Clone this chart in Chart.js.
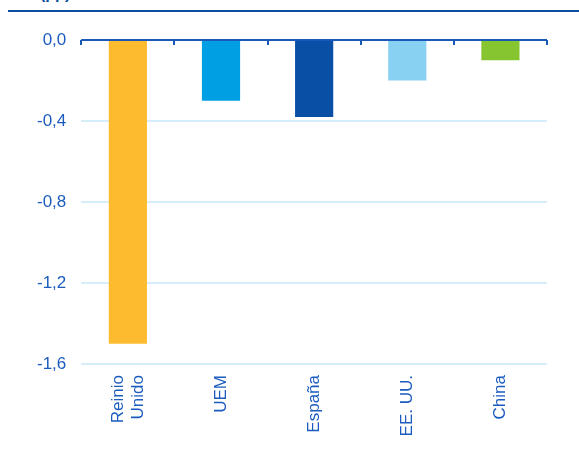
<!DOCTYPE html>
<html lang="es">
  <head>
    <meta charset="UTF-8" />
    <title>Impacto</title>
    <script src="https://cdn.jsdelivr.net/npm/chart.js"></script>
    <style>
      body { margin: 0; background: #fff; }
      .wrap { position: relative; width: 579px; height: 450px; overflow: hidden; }
      .unit { position: absolute; left: 40px; top: -15px; font: bold 16px Arial, "Liberation Sans", sans-serif; color: #0b4ea2; }
      .rule { position: absolute; left: 8px; right: 0; top: 10px; height: 2px; background: #0b4ea2; }
      canvas { position: absolute; left: 0; top: 0; }
    </style>
  </head>
  <body>
    <div class="wrap">
      <div class="unit">(pp)</div>
      <div class="rule"></div>
      <canvas id="chart" width="579" height="450"></canvas>
    </div>

    <script>
      // Datos
      const categories = [["Reinio", "Unido"], "UEM", "España", "EE. UU.", "China"];
      const values = [-1.5, -0.3, -0.38, -0.2, -0.1];
      const colors = ["#fdbb30", "#009fe3", "#0a4fa6", "#89d1f3", "#86c530"];
      const yTicks = [0, -0.4, -0.8, -1.2, -1.6];

      const textColor = "#1c5cbf";
      const fontFamily = "Arial, 'Liberation Sans', sans-serif";
      const font = { family: fontFamily, size: 17 };

      // línea del cero con marcas y etiquetas verticales centradas
      const customAxis = {
        id: "customAxis",
        afterDatasetsDraw(chart) {
          const { ctx, scales } = chart;
          const x = scales.x, y = scales.y;
          const y0 = y.getPixelForValue(0);
          const half = (x.getPixelForValue(1) - x.getPixelForValue(0)) / 2;
          ctx.save();
          ctx.strokeStyle = "#1758b8";
          ctx.lineWidth = 2;
          ctx.beginPath();
          ctx.moveTo(x.left, y0);
          ctx.lineTo(x.right, y0);
          for (let i = 0; i <= categories.length; i++) {
            const px = Math.round(x.getPixelForValue(i) - half);
            ctx.moveTo(px, y0);
            ctx.lineTo(px, y0 + 5);
          }
          ctx.stroke();

          // etiquetas
          ctx.fillStyle = textColor;
          ctx.font = "17px " + fontFamily;
          ctx.textAlign = "right";
          ctx.textBaseline = "middle";
          categories.forEach((cat, i) => {
            const lines = Array.isArray(cat) ? cat : [cat];
            ctx.save();
            ctx.translate(x.getPixelForValue(i), y.bottom + 11);
            ctx.rotate(-Math.PI / 2);
            lines.forEach((t, j) => {
              ctx.fillText(t, 0, (j - (lines.length - 1) / 2) * 20);
            });
            ctx.restore();
          });
          ctx.restore();
        },
      };

      new Chart(document.getElementById("chart"), {
        type: "bar",
        data: {
          labels: categories,
          datasets: [
            {
              data: values,
              backgroundColor: colors,
              categoryPercentage: 0.41,
              barPercentage: 1,
            },
          ],
        },
        options: {
          responsive: false,
          animation: false,
          layout: { padding: { top: 40, right: 32, left: 22, bottom: 78 } },
          plugins: { legend: { display: false }, tooltip: { enabled: false } },
          scales: {
            x: {
              grid: { display: false },
              border: { display: false },
              ticks: { display: false },
            },
            y: {
              min: -1.6,
              max: 0,
              afterBuildTicks(axis) {
                axis.ticks = yTicks.map((v) => ({ value: v }));
              },
              grid: { color: "#d6eef9", lineWidth: 2, drawTicks: false },
              border: { display: false },
              ticks: {
                color: textColor,
                font: font,
                padding: 15,
                callback: (v) => v.toFixed(1).replace(".", ","),
              },
            },
          },
        },
        plugins: [customAxis],
      });
    </script>
  </body>
</html>
